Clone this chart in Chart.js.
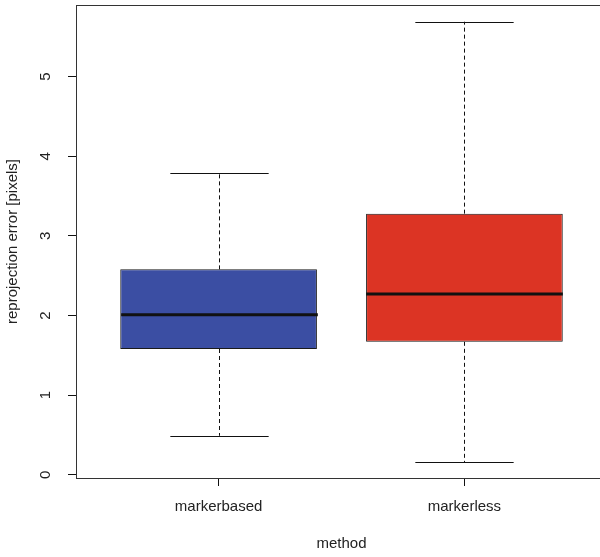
<!DOCTYPE html>
<html>
<head>
<meta charset="utf-8">
<script src="https://cdn.jsdelivr.net/npm/chart.js@4"></script>
<style>
  html, body { margin: 0; padding: 0; background: #fff; overflow: hidden; }
  #wrap { position: relative; width: 607px; height: 557px; }
</style>
</head>
<body>
<div id="wrap"><canvas id="grafico"></canvas></div>
<script>
// Boxplot of reprojection error per method
const metodos = ['markerbased', 'markerless'];
const bigoteInf = [0.49, 0.16];
const cuartil1 = [1.58, 1.67];
const mediana = [2.01, 2.27];
const cuartil3 = [2.58, 3.28];
const bigoteSup = [3.79, 5.69];
const colores = ['#3B4EA3', '#DC3424'];
const ticksY = [0, 1, 2, 3, 4, 5];

const fuente = "'Liberation Sans', Arial, sans-serif";

// Whiskers, caps, median and frame drawn on top of the bars
const pluginCajas = {
    id: 'cajas',
    afterDatasetsDraw(chart) {
        const ctx = chart.ctx;
        const x = chart.scales.x;
        const y = chart.scales.y;
        ctx.save();
        metodos.forEach((m, i) => {
            const cx = Math.round(x.getPixelForValue(i + 1)) + 0.5;
            const medioCaja = x.getPixelForValue(i + 1.4) - x.getPixelForValue(i + 1);
            const medioTope = x.getPixelForValue(i + 1.2) - x.getPixelForValue(i + 1);

            // dashed whiskers
            ctx.strokeStyle = '#111';
            ctx.lineWidth = 1;
            ctx.setLineDash([4, 3]);
            ctx.beginPath();
            ctx.moveTo(cx, y.getPixelForValue(cuartil3[i]));
            ctx.lineTo(cx, y.getPixelForValue(bigoteSup[i]));
            ctx.moveTo(cx, y.getPixelForValue(cuartil1[i]));
            ctx.lineTo(cx, y.getPixelForValue(bigoteInf[i]));
            ctx.stroke();

            // whisker caps
            ctx.setLineDash([]);
            ctx.beginPath();
            [bigoteSup[i], bigoteInf[i]].forEach(v => {
                const py = Math.round(y.getPixelForValue(v)) + 0.5;
                ctx.moveTo(cx - medioTope, py);
                ctx.lineTo(cx + medioTope, py);
            });
            ctx.stroke();

            // median
            ctx.lineWidth = 3;
            ctx.beginPath();
            const pm = y.getPixelForValue(mediana[i]);
            ctx.moveTo(cx - medioCaja, pm);
            ctx.lineTo(cx + medioCaja, pm);
            ctx.stroke();
        });

        // plot frame
        const a = chart.chartArea;
        ctx.strokeStyle = '#333';
        ctx.lineWidth = 1;
        ctx.strokeRect(Math.round(a.left) + 0.5, Math.round(a.top) + 0.5,
            Math.round(a.right - a.left), Math.round(a.bottom - a.top));
        ctx.restore();
    }
};

new Chart(document.getElementById('grafico'), {
    type: 'bar',
    data: {
        datasets: [{
            data: metodos.map((m, i) => ({ x: i + 1, y: [cuartil1[i], cuartil3[i]] })),
            backgroundColor: colores,
            borderColor: '#1a1a1a',
            borderWidth: 1,
            borderSkipped: false,
            barPercentage: 1,
            categoryPercentage: 0.8
        }]
    },
    options: {
        responsive: true,
        maintainAspectRatio: false,
        animation: false,
        layout: { padding: { top: 5, right: 0, left: 0, bottom: 0 } },
        plugins: { legend: { display: false }, tooltip: { enabled: false } },
        scales: {
            x: {
                type: 'linear',
                min: 0.42,
                max: 2.58,
                offset: false,
                afterBuildTicks: s => { s.ticks = metodos.map((m, i) => ({ value: i + 1 })); },
                afterFit: s => { s.height = 79; s.paddingLeft = 0; s.paddingRight = 0; },
                grid: { display: true, offset: false, drawOnChartArea: false, drawTicks: true, tickLength: 8, color: '#111' },
                border: { display: true, color: '#333' },
                ticks: {
                    callback: v => metodos[v - 1],
                    padding: 12,
                    maxRotation: 0,
                    color: '#222',
                    font: { family: fuente, size: 15 }
                },
                title: {
                    display: true,
                    text: 'method',
                    color: '#222',
                    padding: { top: 0, bottom: 4 },
                    font: { family: fuente, size: 15 }
                }
            },
            y: {
                type: 'linear',
                min: -0.04,
                max: 5.9,
                afterBuildTicks: s => { s.ticks = ticksY.map(v => ({ value: v })); },
                afterFit: s => { s.width = 76; s.paddingTop = 0; s.paddingBottom = 0; },
                grid: { display: true, drawOnChartArea: false, drawTicks: true, tickLength: 8, color: '#111' },
                border: { display: true, color: '#333' },
                ticks: {
                    minRotation: 90,
                    maxRotation: 90,
                    crossAlign: 'center',
                    padding: 18,
                    color: '#222',
                    font: { family: fuente, size: 15 }
                },
                title: {
                    display: true,
                    text: 'reprojection error [pixels]',
                    color: '#222',
                    padding: { top: 4, bottom: 0 },
                    font: { family: fuente, size: 15 }
                }
            }
        }
    },
    plugins: [pluginCajas]
});
</script>
</body>
</html>
